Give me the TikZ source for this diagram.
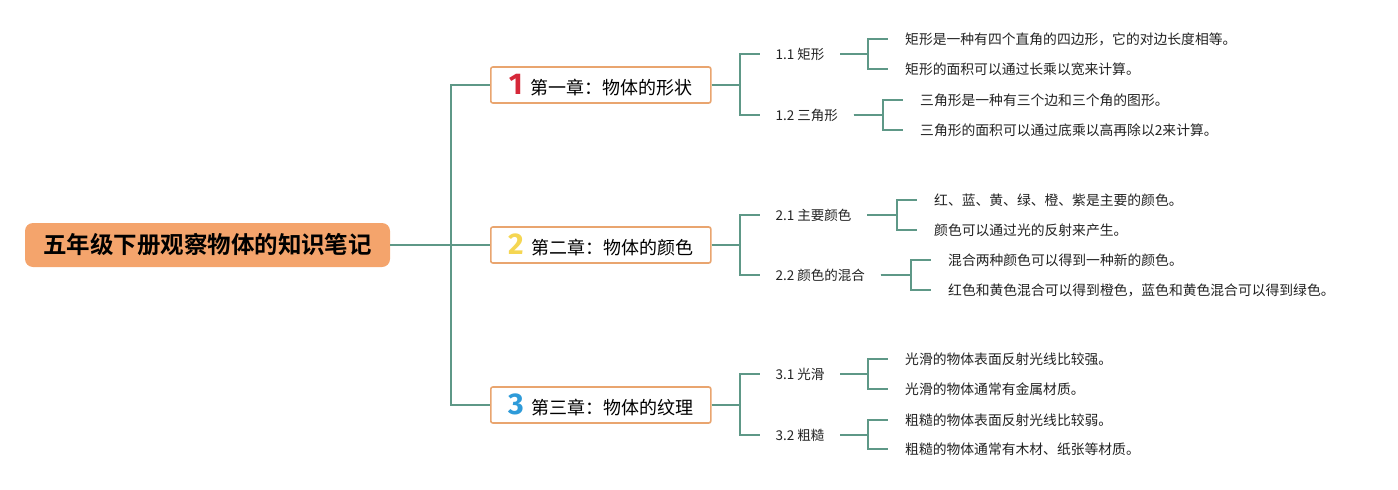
\documentclass[tikz,border=0pt]{standalone}
\usepackage{fontspec}
\usepackage{tikz}
\newfontfamily\cjk{Noto Sans CJK SC}[BoldFont={Noto Sans CJK SC Bold}]
\newfontfamily\numfont{Fira Sans}
\definecolor{rootorange}{HTML}{F4A46C}
\definecolor{boxorange}{HTML}{E9A56F}
\definecolor{linkgreen}{HTML}{5E9887}
\definecolor{numred}{HTML}{D62839}
\definecolor{numyellow}{HTML}{F5D652}
\definecolor{numblue}{HTML}{2E9BD9}
\definecolor{leafgray}{HTML}{222222}
\tikzset{
  rootbox/.style={fill=rootorange, rounded corners=8pt, minimum width=365pt,
    minimum height=44pt, font=\cjk\bfseries\fontsize{23.5}{26}\selectfont},
  chapbox/.style={draw=boxorange, fill=white, line width=1.6pt, rounded corners=2pt,
    minimum width=220pt, minimum height=36pt, anchor=west,
    font=\cjk\fontsize{18}{20}\selectfont},
  sub/.style={anchor=west, inner xsep=15.5pt, inner ysep=2pt,
    font=\cjk\fontsize{13.5}{16}\selectfont, text=leafgray},
  leaf/.style={anchor=west, inner xsep=17pt, inner ysep=2pt, text height=12pt,
    font=\cjk\fontsize{13.8}{16}\selectfont, text=leafgray},
  link/.style={draw=linkgreen, line width=1.8pt}
}
\newcommand{\chapnum}[2]{{\numfont\bfseries\fontsize{30}{30}\selectfont\textcolor{#1}{#2}}\hspace{8pt}}
\begin{document}
\begin{tikzpicture}[x=1pt, y=-1pt]
    \useasboundingbox (0,0) rectangle (1398,490);

    % Root
    \node[rootbox] (root) at (207.5,245) {五年级下册观察物体的知识笔记};

    % Chapters
    \node[chapbox] (ch1) at (490,85) {\chapnum{numred}{1}第一章：物体的形状};
    \node[chapbox] (ch2) at (490,245) {\chapnum{numyellow}{2}第二章：物体的颜色};
    \node[chapbox] (ch3) at (490,405) {\chapnum{numblue}{3}第三章：物体的纹理};

    \draw[link] (root.east) -| ([xshift=-39pt]ch1.west) -- (ch1.west);
    \draw[link] (root.east) -- (ch2.west);
    \draw[link] (root.east) -| ([xshift=-39pt]ch3.west) -- (ch3.west);

    % First chapter
    \node[sub] (s11) at (760,54) {1.1 矩形};
    \node[sub] (s12) at (760,115) {1.2 三角形};
    \node[leaf] (l111) at (888,39) {矩形是一种有四个直角的四边形，它的对边长度相等。};
    \node[leaf] (l112) at (888,69) {矩形的面积可以通过长乘以宽来计算。};
    \node[leaf] (l121) at (903,100) {三角形是一种有三个边和三个角的图形。};
    \node[leaf] (l122) at (903,130) {三角形的面积可以通过底乘以高再除以2来计算。};

    \draw[link] (ch1.east) -| ([xshift=-20pt]s11.west) -- (s11.west);
    \draw[link] (ch1.east) -| ([xshift=-20pt]s12.west) -- (s12.west);
    \draw[link] (s11.east) -| ([xshift=-20pt]l111.west) -- (l111.west);
    \draw[link] (s11.east) -| ([xshift=-20pt]l112.west) -- (l112.west);
    \draw[link] (s12.east) -| ([xshift=-20pt]l121.west) -- (l121.west);
    \draw[link] (s12.east) -| ([xshift=-20pt]l122.west) -- (l122.west);

    % Second chapter
    \node[sub] (s21) at (760,215) {2.1 主要颜色};
    \node[sub] (s22) at (760,275) {2.2 颜色的混合};
    \node[leaf] (l211) at (917,200) {红、蓝、黄、绿、橙、紫是主要的颜色。};
    \node[leaf] (l212) at (917,230) {颜色可以通过光的反射来产生。};
    \node[leaf] (l221) at (931,260) {混合两种颜色可以得到一种新的颜色。};
    \node[leaf] (l222) at (931,290) {红色和黄色混合可以得到橙色，蓝色和黄色混合可以得到绿色。};

    \draw[link] (ch2.east) -| ([xshift=-20pt]s21.west) -- (s21.west);
    \draw[link] (ch2.east) -| ([xshift=-20pt]s22.west) -- (s22.west);
    \draw[link] (s21.east) -| ([xshift=-20pt]l211.west) -- (l211.west);
    \draw[link] (s21.east) -| ([xshift=-20pt]l212.west) -- (l212.west);
    \draw[link] (s22.east) -| ([xshift=-20pt]l221.west) -- (l221.west);
    \draw[link] (s22.east) -| ([xshift=-20pt]l222.west) -- (l222.west);

    % Third chapter
    \node[sub] (s31) at (760,374) {3.1 光滑};
    \node[sub] (s32) at (760,435) {3.2 粗糙};
    \node[leaf] (l311) at (888,359) {光滑的物体表面反射光线比较强。};
    \node[leaf] (l312) at (888,389) {光滑的物体通常有金属材质。};
    \node[leaf] (l321) at (888,420) {粗糙的物体表面反射光线比较弱。};
    \node[leaf] (l322) at (888,449) {粗糙的物体通常有木材、纸张等材质。};

    \draw[link] (ch3.east) -| ([xshift=-20pt]s31.west) -- (s31.west);
    \draw[link] (ch3.east) -| ([xshift=-20pt]s32.west) -- (s32.west);
    \draw[link] (s31.east) -| ([xshift=-20pt]l311.west) -- (l311.west);
    \draw[link] (s31.east) -| ([xshift=-20pt]l312.west) -- (l312.west);
    \draw[link] (s32.east) -| ([xshift=-20pt]l321.west) -- (l321.west);
    \draw[link] (s32.east) -| ([xshift=-20pt]l322.west) -- (l322.west);
\end{tikzpicture}
\end{document}
